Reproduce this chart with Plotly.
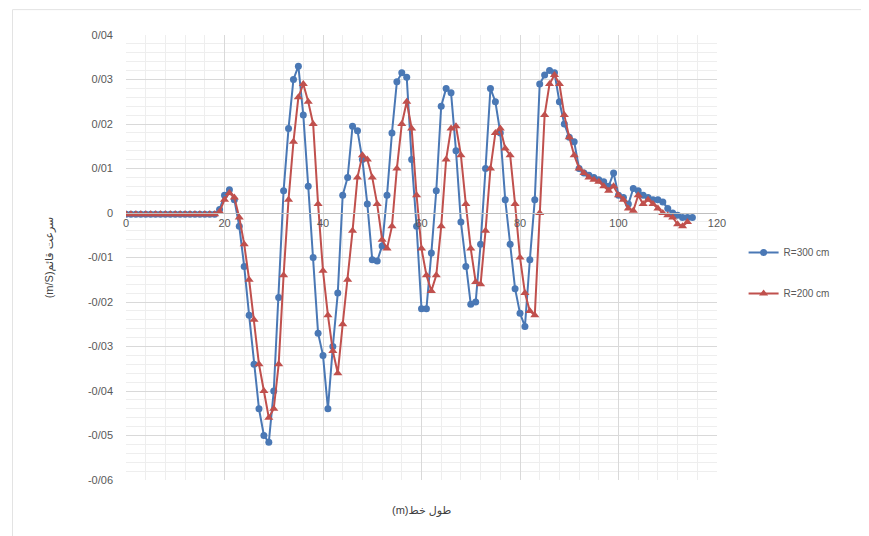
import plotly.graph_objects as go

# ---- data ----
x_300 = list(range(0, 116))
v_300 = [-0.0003] * 19 + [
    0.0008, 0.004, 0.0052, 0.003, -0.003, -0.012, -0.023, -0.034, -0.044, -0.050,   # 19-28
    -0.0515, -0.040, -0.019, 0.005, 0.019, 0.030, 0.033, 0.022, 0.006, -0.010,       # 29-38
    -0.027, -0.032, -0.044, -0.030, -0.018, 0.004, 0.008, 0.0195, 0.0185, 0.012,     # 39-48
    0.002, -0.0105, -0.0108, -0.0074, 0.004, 0.018, 0.0295, 0.0315, 0.0305, 0.012,   # 49-58
    -0.003, -0.0215, -0.0215, -0.009, 0.005, 0.024, 0.028, 0.027, 0.014, -0.002,     # 59-68
    -0.012, -0.0205, -0.020, -0.007, 0.010, 0.028, 0.025, 0.018, 0.003, -0.007,      # 69-78
    -0.017, -0.0225, -0.0255, -0.0105, 0.003, 0.029, 0.031, 0.032, 0.0315, 0.025,    # 79-88
    0.020, 0.017, 0.016, 0.010, 0.009, 0.0085, 0.008, 0.0075, 0.007, 0.006,          # 89-98
    0.009, 0.004, 0.0035, 0.002, 0.0055, 0.005, 0.004, 0.0035, 0.003, 0.003,         # 99-108
    0.0025, 0.001, 0.0, -0.0005, -0.001, -0.001, -0.001                               # 109-115
]

x_200 = list(range(0, 115))
v_200 = [-0.0003] * 19 + [
    0.0003, 0.003, 0.0045, 0.0035, -0.001, -0.007, -0.015, -0.024, -0.034, -0.040,   # 19-28
    -0.046, -0.044, -0.034, -0.014, 0.003, 0.016, 0.026, 0.029, 0.025, 0.020,        # 29-38
    0.002, -0.013, -0.023, -0.031, -0.036, -0.025, -0.015, -0.004, 0.008, 0.013,     # 39-48
    0.012, 0.008, 0.002, -0.006, -0.008, -0.003, 0.010, 0.020, 0.025, 0.019,         # 49-58
    0.004, -0.008, -0.014, -0.0175, -0.014, -0.003, 0.012, 0.019, 0.0195, 0.013,     # 59-68
    0.002, -0.008, -0.0155, -0.016, -0.004, 0.010, 0.018, 0.019, 0.0145, 0.013,      # 69-78
    0.002, -0.010, -0.018, -0.022, -0.023, 0.0, 0.022, 0.029, 0.031, 0.029,          # 79-88
    0.022, 0.017, 0.013, 0.010, 0.009, 0.008, 0.0075, 0.007, 0.006, 0.005,           # 89-98
    0.006, 0.004, 0.003, 0.001, 0.0005, 0.004, 0.002, 0.003, 0.002, 0.001,           # 99-108
    0.0, -0.0005, -0.001, -0.0025, -0.003, -0.002                                     # 109-114
]

y_tickvals = [0.04, 0.03, 0.02, 0.01, 0, -0.01, -0.02, -0.03, -0.04, -0.05, -0.06]
y_ticktext = ["0/04", "0/03", "0/02", "0/01", "0", "-0/01", "-0/02", "-0/03", "-0/04", "-0/05", "-0/06"]
x_tickvals = [0, 20, 40, 60, 80, 100, 120]
x_ticktext = ["0", "20", "40", "60", "80", "100", "120"]

series_names = ["R=300 cm", "R=200 cm"]

BLUE = "#4A78B5"
RED = "#C0504D"
FONT = "Liberation Sans, DejaVu Sans, sans-serif"

fig = go.Figure()
fig.add_trace(go.Scatter(
    x=x_300, y=v_300, name=series_names[0], mode="lines+markers",
    line=dict(color=BLUE, width=2),
    marker=dict(symbol="circle", size=7, color=BLUE),
    legendgroup="a",
))
fig.add_trace(go.Scatter(
    x=x_200, y=v_200, name=series_names[1], mode="lines+markers",
    line=dict(color=RED, width=2),
    marker=dict(symbol="triangle-up", size=8, color=RED),
    legendgroup="b",
))

fig.update_layout(
    width=861, height=528,
    margin=dict(l=118, r=152, t=27, b=56),
    paper_bgcolor="white", plot_bgcolor="white",
    font=dict(family=FONT, size=11, color="#595959"),
    showlegend=True,
    legend=dict(x=1.045, y=0.465, xanchor="left", yanchor="middle",
                font=dict(size=10, color="#595959"), tracegroupgap=22,
                bgcolor="rgba(0,0,0,0)"),
    xaxis=dict(
        range=[0, 120], tickvals=x_tickvals, ticktext=x_ticktext,
        anchor="free", position=0.6, side="bottom",
        showline=True, linecolor="#BFBFBF", linewidth=1,
        showgrid=True, gridcolor="#D9D9D9", gridwidth=1,
        minor=dict(dtick=4, showgrid=True, gridcolor="#EEEEEE", gridwidth=1),
        zeroline=False, ticks="", tickfont=dict(size=11, color="#595959"),
    ),
    yaxis=dict(
        range=[-0.06, 0.04], tickvals=y_tickvals, ticktext=y_ticktext,
        showgrid=True, gridcolor="#D9D9D9", gridwidth=1,
        minor=dict(dtick=0.002, showgrid=True, gridcolor="#EEEEEE", gridwidth=1),
        zeroline=False, showline=False, ticks="",
        ticklabelstandoff=12,
        tickfont=dict(size=11, color="#595959"),
        title=dict(text="(m/S)سرعت قائم", font=dict(size=11, color="#404040"), standoff=32),
    ),
    annotations=[dict(
        text="(m)طول خط", xref="paper", yref="paper", x=0.5, y=-0.05,
        xanchor="center", yanchor="top", showarrow=False,
        font=dict(size=11, color="#404040"),
    )],
    shapes=[dict(
        type="rect", xref="paper", yref="paper",
        x0=-0.192, x1=1.262, y0=-0.137, y1=1.057,
        line=dict(color="#E3E3E3", width=1), fillcolor="rgba(0,0,0,0)", layer="below",
    )],
)

fig.write_html("out.html")
